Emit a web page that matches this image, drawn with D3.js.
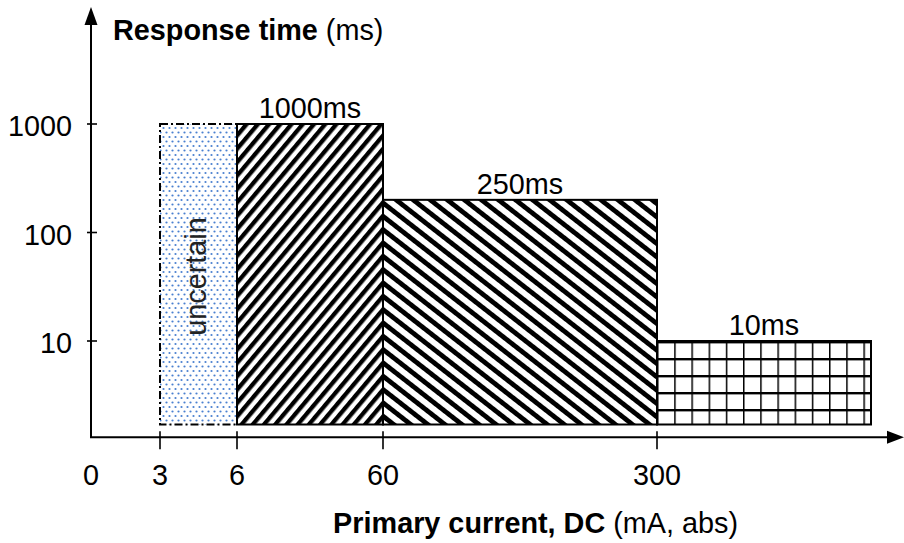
<!DOCTYPE html>
<html>
<head>
<meta charset="utf-8">
<script src="https://d3js.org/d3.v7.min.js"></script>
<style>
  body { margin: 0; background: #fff; }
  svg text { font-family: "Liberation Sans", Arial, Helvetica, sans-serif; fill: #000; }
</style>
</head>
<body>
<svg id="chart" width="904" height="543" font-family="Liberation Sans, Arial, sans-serif"></svg>
<script>
// schematic axis break points (current, mA) and tick labels
var xBreaks = [0, 3, 6, 60, 300, 1000];
var xTicks = [0, 3, 6, 60, 300];
var yTicks = [10, 100, 1000];

// response bands
var bandStart = [3, 6, 60, 300];
var bandEnd = [6, 60, 300, 1000];
var bandTime = [1000, 1000, 200, 10];
var bandLabel = ["uncertain", "1000ms", "250ms", "10ms"];
var bandFill = ["dots", "hatchUp", "hatchDown", "grid"];

var yFloor = 1.7;   // bars start here
var yAxisAt = 1.3;  // where the x axis crosses

var svg = d3.select("#chart"),
    width = +svg.attr("width"),
    height = +svg.attr("height");

var x = d3.scaleLinear()
    .domain(xBreaks)
    .range([91, 160, 237, 383, 657, 871]);

var y = d3.scaleLog()
    .domain([10, 1000])
    .range([341, 124]);

var axisY = y(yAxisAt);

//patterns//
var defs = svg.append("defs");

var dots = defs.append("pattern")
    .attr("id", "dots")
    .attr("patternUnits", "userSpaceOnUse")
    .attr("width", 6).attr("height", 9);
dots.append("rect").attr("width", 6).attr("height", 9).attr("fill", "#fff");
dots.append("circle").attr("cx", 1.5).attr("cy", 2).attr("r", 1.1).attr("fill", "#4a80d0");
dots.append("circle").attr("cx", 4.5).attr("cy", 6.5).attr("r", 1.1).attr("fill", "#4a80d0");

function stripes(id, period, thick, angle) {
  var p = defs.append("pattern")
      .attr("id", id)
      .attr("patternUnits", "userSpaceOnUse")
      .attr("width", period).attr("height", 10)
      .attr("patternTransform", "rotate(" + angle + ")");
  p.append("rect").attr("width", period).attr("height", 10).attr("fill", "#fff");
  p.append("rect").attr("width", thick).attr("height", 10).attr("fill", "#000");
}
stripes("hatchUp", 8.6, 4.3, 40);
stripes("hatchDown", 10.5, 4.8, -52);

var grid = defs.append("pattern")
    .attr("id", "grid")
    .attr("patternUnits", "userSpaceOnUse")
    .attr("x", x(300)).attr("y", y(10))
    .attr("width", 17.2).attr("height", 17);
grid.append("rect").attr("width", 17.2).attr("height", 17).attr("fill", "#fff");
grid.append("line").attr("x1", 0.75).attr("x2", 0.75).attr("y1", 0).attr("y2", 17)
    .attr("stroke", "#000").attr("stroke-width", 1.5);
grid.append("line").attr("x1", 0).attr("x2", 17.2).attr("y1", 1.2).attr("y2", 1.2)
    .attr("stroke", "#000").attr("stroke-width", 2.4);

//bands//
var idx = d3.range(bandStart.length);

svg.append("g").selectAll("rect")
  .data(idx)
  .enter()
  .append("rect")
    .attr("x", function(i) { return x(bandStart[i]); })
    .attr("y", function(i) { return y(bandTime[i]); })
    .attr("width", function(i) { return x(bandEnd[i]) - x(bandStart[i]); })
    .attr("height", function(i) { return y(yFloor) - y(bandTime[i]); })
    .attr("fill", function(i) { return "url(#" + bandFill[i] + ")"; })
    .attr("stroke", "#000")
    .attr("stroke-width", 2)
    .attr("stroke-dasharray", function(i) { return i == 0 ? "8,3,2,3" : null; });

// labels above bars
svg.append("g").selectAll("text")
  .data(idx.slice(1))
  .enter()
  .append("text")
    .attr("x", function(i) { return (x(bandStart[i]) + x(bandEnd[i])) / 2; })
    .attr("y", function(i) { return y(bandTime[i]) - 6; })
    .attr("text-anchor", "middle")
    .attr("font-size", 28.8)
    .text(function(i) { return bandLabel[i]; });

// rotated label in the uncertain band
svg.append("text")
    .attr("transform", "translate(" + (x(3) + 46) + "," + (y(yFloor) - 148) + ") rotate(-90)")
    .attr("text-anchor", "middle")
    .attr("font-size", 28.8)
    .style("fill", "#222")
    .text(bandLabel[0]);

//axes//
var ax = svg.append("g").attr("stroke", "#000");

ax.append("line")
    .attr("x1", x(0)).attr("x2", x(0))
    .attr("y1", axisY).attr("y2", 20)
    .attr("stroke-width", 2);
ax.append("line")
    .attr("x1", x(0) - 1).attr("x2", width - 10)
    .attr("y1", axisY).attr("y2", axisY)
    .attr("stroke-width", 2);

svg.append("path")
    .attr("d", "M" + x(0) + ",7 L" + (x(0) - 6.5) + ",25 L" + (x(0) + 6.5) + ",25 Z")
    .attr("fill", "#000");
svg.append("path")
    .attr("d", "M" + width + "," + axisY + " L" + (width - 17) + "," + (axisY - 6.5) +
          " L" + (width - 17) + "," + (axisY + 6.5) + " Z")
    .attr("fill", "#000");

// y ticks
ax.selectAll(".yt")
  .data(yTicks)
  .enter()
  .append("line")
    .attr("x1", x(0) - 4).attr("x2", x(0) + 6)
    .attr("y1", function(d) { return y(d); })
    .attr("y2", function(d) { return y(d); })
    .attr("stroke-width", 1.6);

svg.append("g").selectAll("text")
  .data(yTicks)
  .enter()
  .append("text")
    .attr("x", 72)
    .attr("y", function(d) { return y(d) + 12; })
    .attr("text-anchor", "end")
    .attr("font-size", 28.8)
    .text(function(d) { return d; });

// x ticks
ax.selectAll(".xt")
  .data(xTicks.filter(function(d) { return d > 0; }))
  .enter()
  .append("line")
    .attr("x1", function(d) { return x(d); })
    .attr("x2", function(d) { return x(d); })
    .attr("y1", axisY - 6).attr("y2", axisY + 12)
    .attr("stroke-width", 1.6);

svg.append("g").selectAll("text")
  .data(xTicks)
  .enter()
  .append("text")
    .attr("x", function(d) { return x(d); })
    .attr("y", 485)
    .attr("text-anchor", "middle")
    .attr("font-size", 28.8)
    .text(function(d) { return d; });

// titles
var yt = svg.append("text")
    .attr("x", 113).attr("y", 40)
    .attr("font-size", 28.8);
yt.append("tspan").attr("font-weight", "bold").text("Response time");
yt.append("tspan").text(" (ms)");

var xt = svg.append("text")
    .attr("x", 738).attr("y", 533)
    .attr("text-anchor", "end")
    .attr("font-size", 28.8);
xt.append("tspan").attr("font-weight", "bold").text("Primary current, DC");
xt.append("tspan").text(" (mA, abs)");
</script>
</body>
</html>
